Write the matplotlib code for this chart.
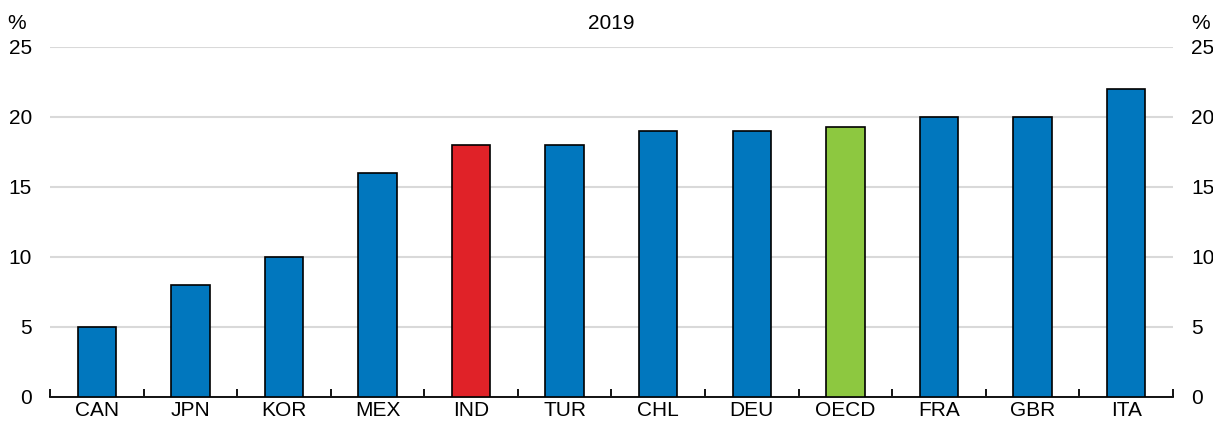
import numpy as np
import matplotlib.pyplot as plt

countries = ['CAN', 'JPN', 'KOR', 'MEX', 'IND', 'TUR', 'CHL', 'DEU', 'OECD', 'FRA', 'GBR', 'ITA']
values = [5, 8, 10, 16, 18, 18, 19, 19, 19.3, 20, 20, 22]

blue = '#0177BE'
red = '#E02228'
green = '#8DC840'
bar_colors = [red if c == 'IND' else green if c == 'OECD' else blue for c in countries]

plt.rcParams['font.family'] = ['Liberation Sans', 'DejaVu Sans']
fs = 15

fig = plt.figure(figsize=(12.13, 4.23), dpi=100)
ax = fig.add_axes([0.0412, 0.0615, 0.9258, 0.8275])

x = np.arange(len(countries))
ax.bar(x, values, width=0.41, color=bar_colors, edgecolor='black', linewidth=1.2, zorder=3)

ax.set_xlim(-0.5, len(countries) - 0.5)
ax.set_ylim(0, 25)
ax.set_yticks(np.arange(0, 26, 5))
ax.yaxis.grid(True, color='#d9d9d9', linewidth=1.5, zorder=0)
ax.tick_params(axis='y', length=0, labelsize=fs, pad=13, labelright=True, right=False)

# category boundary ticks on the x axis
ax.set_xticks(np.arange(-0.5, len(countries), 1.0))
ax.set_xticklabels([])
ax.set_xticks(x, minor=True)
ax.set_xticklabels(countries, minor=True, fontsize=fs)
ax.tick_params(axis='x', which='major', direction='in', length=6, width=1.3, color='black')
ax.tick_params(axis='x', which='minor', length=0, pad=3)

for s in ['left', 'right', 'top']:
    ax.spines[s].set_visible(False)
ax.spines['bottom'].set_linewidth(1.3)

ax.text(-0.0295, 26.0, '%', transform=ax.get_yaxis_transform(), ha='center', va='bottom', fontsize=fs)
ax.text(1.0165, 26.0, '%', transform=ax.get_yaxis_transform(), ha='left', va='bottom', fontsize=fs)
ax.set_title('2019', fontsize=fs, pad=13)

fig.savefig('out.png', dpi=100)
